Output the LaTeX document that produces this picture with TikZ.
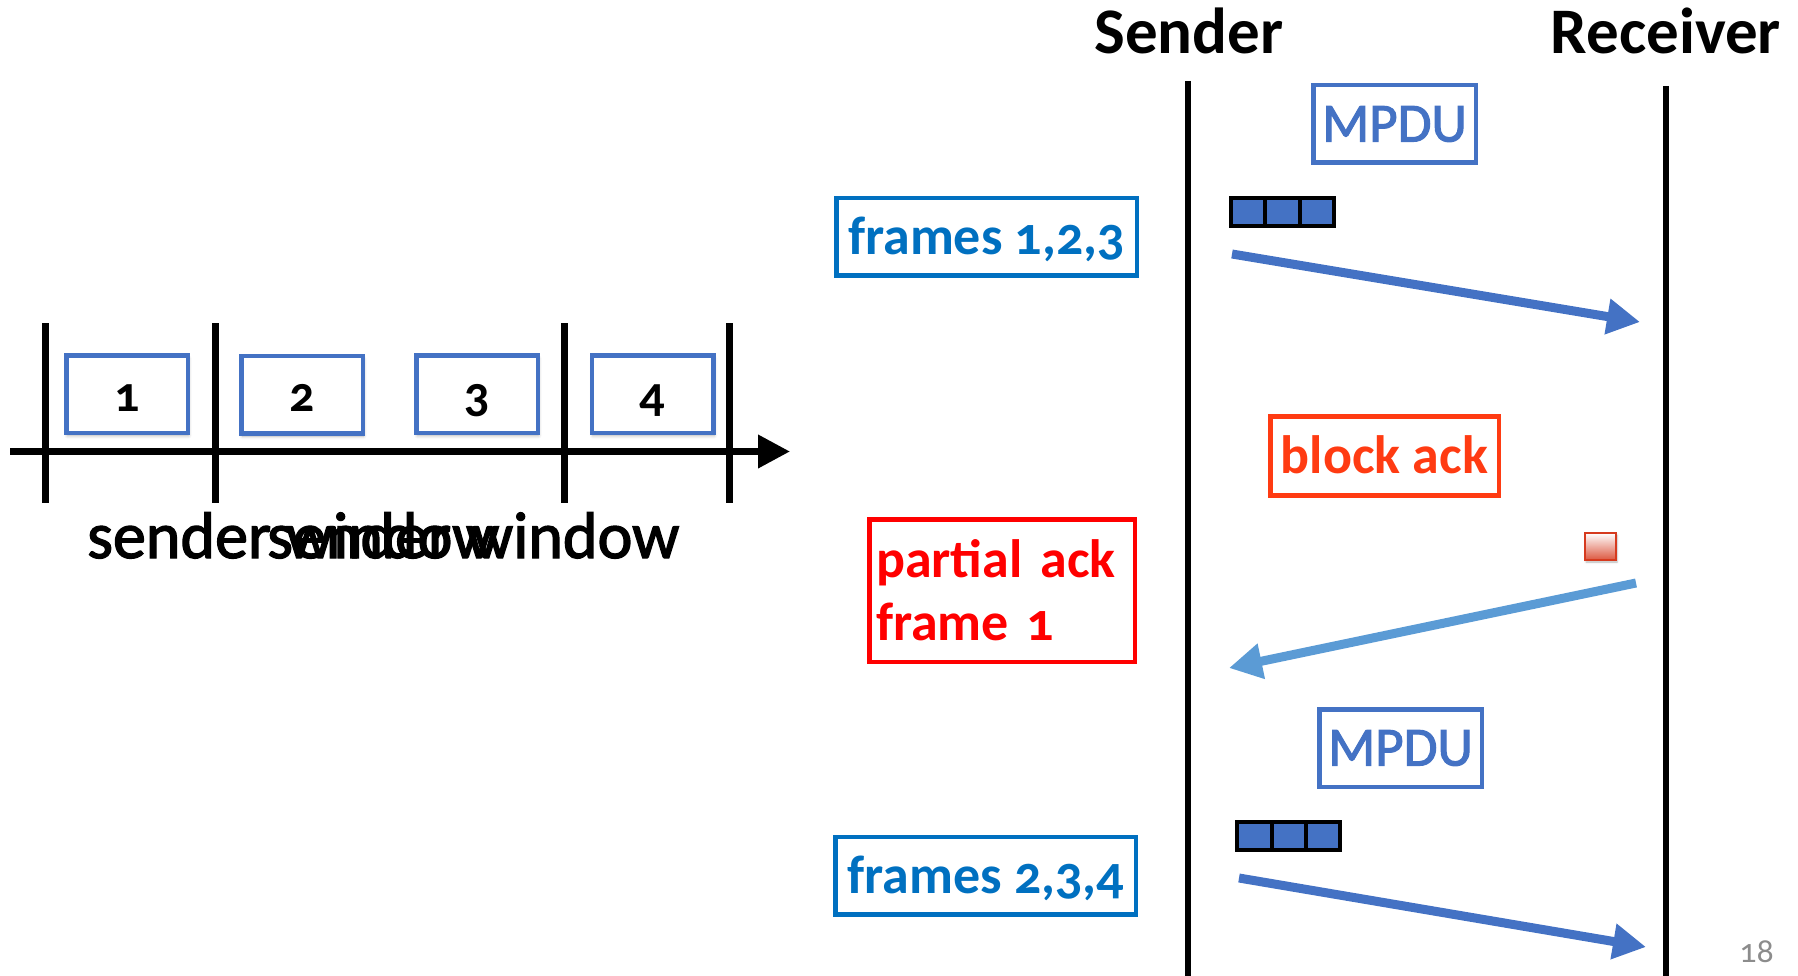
\documentclass[tikz,border=0pt]{standalone}
\usepackage{fontspec}
\setmainfont{Carlito}[Numbers=OldStyle]
% slightly heavier regular face for the plain labels
\newfontfamily\heavyface{Carlito}[Numbers=OldStyle, FakeBold=2]
\usetikzlibrary{arrows.meta,shadows.blur}

\definecolor{mblue}{HTML}{4472C4}
\definecolor{fblue}{HTML}{0070C0}
\definecolor{lblue}{HTML}{5B9BD5}
\definecolor{bred}{HTML}{FF3B12}
\definecolor{pred}{HTML}{FF0000}
\definecolor{bitred}{HTML}{D63A1E}
\definecolor{pgray}{HTML}{8C8C8C}

\tikzset{
  % time axis of the sliding window
  axisline/.style={line width=7pt, -{Triangle[length=32pt,width=32pt]}},
  tickline/.style={line width=7pt},
  slot/.style={draw=mblue, line width=4.5pt, fill=white,
    minimum width=121.5pt, minimum height=77.5pt, inner sep=0pt,
    text height=40pt, text depth=6pt,
    font=\bfseries\fontsize{50}{55}\selectfont,
    blur shadow={shadow xshift=1pt, shadow yshift=-3pt, shadow blur radius=3pt, shadow opacity=30}},
  wintext/.style={font=\heavyface\fontsize{66}{70}\selectfont, inner sep=0pt},
  % sequence diagram
  head/.style={font=\bfseries\fontsize{65}{70}\selectfont, inner sep=0pt},
  lifeline/.style={line width=6.5pt},
  label/.style={line width=4.5pt, inner sep=0pt, text height=39pt, text depth=4pt},
  mpdu/.style={label, draw=mblue, text=mblue, minimum width=162.5pt, minimum height=77.5pt,
    font=\heavyface\fontsize{55}{60}\selectfont},
  frames/.style={label, draw=fblue, text=fblue, minimum width=300.5pt, minimum height=77.5pt,
    font=\bfseries\fontsize{54}{60}\selectfont},
  back/.style={label, draw=bred, text=bred, minimum width=228.5pt, minimum height=79pt,
    font=\bfseries\fontsize{54}{60}\selectfont},
  pack/.style={draw=pred, text=pred, line width=4.5pt, minimum width=265.5pt, minimum height=142.5pt,
    text width=252pt, align=left, inner xsep=6.75pt, inner ysep=0pt,
    font=\bfseries\fontsize{54}{63}\selectfont},
  cell/.style={draw=black, fill=mblue, line width=4pt, minimum width=34.3pt, minimum height=28pt, inner sep=0pt},
  bit/.style={draw=bitred, line width=2pt, top color=white, bottom color=bitred!85,
    minimum width=31pt, minimum height=27pt, inner sep=0pt,
    blur shadow={shadow xshift=1pt, shadow yshift=-2pt, shadow blur radius=2pt, shadow opacity=30}},
  msg/.style={line width=9pt, -{Triangle[length=33pt,width=34pt]}},
  pnum/.style={text=pgray, font=\fontsize{34}{38}\selectfont, inner sep=0pt},
}

\begin{document}
\begin{tikzpicture}[x=1pt,y=-1pt]
\useasboundingbox (0,0) rectangle (1798,976);

% ---------- sliding window on a time axis ----------
\coordinate (t1a) at (45,323);  \coordinate (t1b) at (45,503);
\coordinate (t2a) at (215,323); \coordinate (t2b) at (215,503);
\coordinate (t3a) at (564,323); \coordinate (t3b) at (564,503);
\coordinate (t4a) at (729,323); \coordinate (t4b) at (729,503);
\draw[tickline] (t1a) -- (t1b);
\draw[tickline] (t2a) -- (t2b);
\draw[tickline] (t3a) -- (t3b);
\draw[tickline] (t4a) -- (t4b);
\coordinate (axs) at (10,451.5);
\coordinate (axe) at (790,451.5);
\draw[axisline] (axs) -- (axe);

\node[slot] (s1) at (127,394)   {1};
\node[slot] (s2) at (302,394.5) {2};
\node[slot] (s3) at (477,394)   {3};
\node[slot] (s4) at (652.5,394) {4};

\node[wintext, anchor=base west] (w1) at (87,558)  {sender window};
\node[wintext, anchor=base west] (w2) at (267,558) {sender window};

% ---------- sender / receiver exchange ----------
\node[head, anchor=base] (snd) at (1189,54) {Sender};
\node[head, anchor=base] (rcv) at (1666,54) {Receiver};
\coordinate (sl1) at (1188,81);  \coordinate (sl2) at (1188,976);
\coordinate (rl1) at (1666,86);  \coordinate (rl2) at (1666,976);
\draw[lifeline] (sl1) -- (sl2);
\draw[lifeline] (rl1) -- (rl2);

% first aggregate
\node[mpdu] (m1) at (1394.5,124) {MPDU};
\node[cell] (c1a) at (1248.2,212) {};
\node[cell] (c1b) at (1282.5,212) {};
\node[cell] (c1c) at (1316.8,212) {};
\node[frames] (f1) at (986.5,237) {frames 1,2,3};
\coordinate (a1s) at (1232,254);
\coordinate (a1e) at (1640,322);
\draw[msg, draw=mblue, fill=mblue] (a1s) -- (a1e);

% block acknowledgement
\node[back] (ba) at (1384.5,456) {block ack};
\node[bit] (ab) at (1600.5,546.5) {};
\node[pack] (pa) at (1002,590.5) {partial ack\\frame 1};
\coordinate (a2s) at (1636,583);
\coordinate (a2e) at (1229,668);
\draw[msg, draw=lblue, fill=lblue] (a2s) -- (a2e);

% second aggregate
\node[mpdu] (m2) at (1400.5,748) {MPDU};
\node[cell] (c2a) at (1254.5,836) {};
\node[cell] (c2b) at (1288.8,836) {};
\node[cell] (c2c) at (1323.1,836) {};
\node[frames] (f2) at (985.8,875.5) {frames 2,3,4};
\coordinate (a3s) at (1239,878);
\coordinate (a3e) at (1646,947);
\draw[msg, draw=mblue, fill=mblue] (a3s) -- (a3e);

\node[pnum] (pg) at (1756.5,951.5) {18};
\end{tikzpicture}
\end{document}
